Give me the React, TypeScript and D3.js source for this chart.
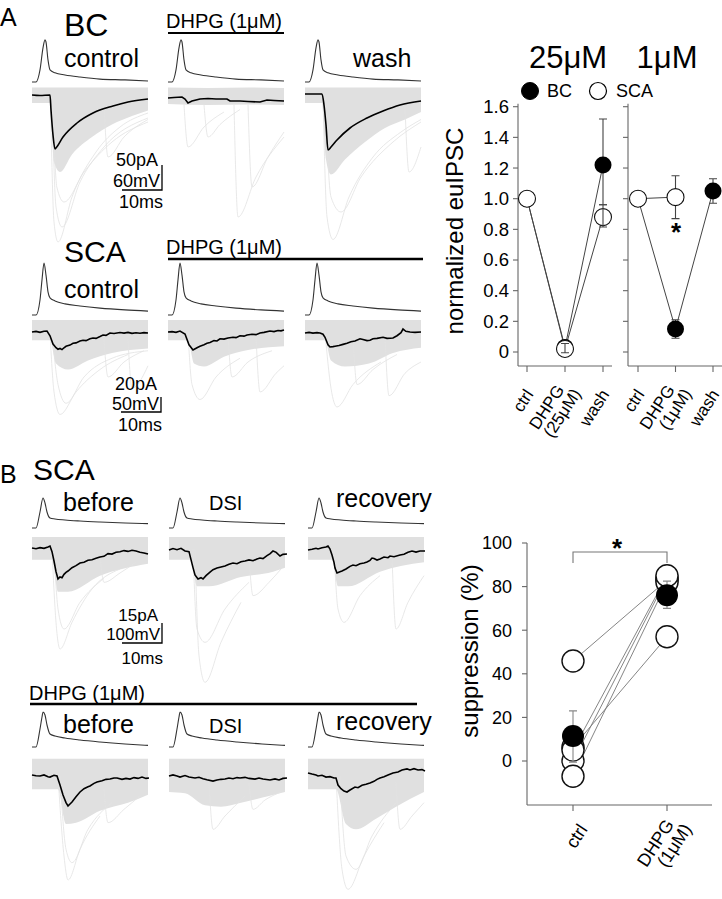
import React from "react";
import * as d3 from "d3";

type P = [number, number];
type B3 = [number, number, number];

// ===================== Panel A traces (time ms; current pA; voltage mV) =====================
// BC row
const apBC: P[] = [[0,0],[1,0],[2,29],[2.75,82],[3.25,101],[3.5,96],[4,53],[4.5,29],[5.75,22],[8.25,17],[12,12],[17,7],[23.25,5],[29,2.4]];
const bcControlMean: P[] = [[0,4],[2,3],[4.5,4],[4.75,-26],[5.25,-76],[5.75,-104],[6,-102],[7.75,-80],[11.25,-52],[15.25,-32],[20.25,-18],[24,-10],[29,-4]];
const bcDhpgMean: P[] = [[0,-2],[1.5,-1],[3.5,0],[4.25,-4],[5,-12],[6,-8],[8,-4],[10,-3],[12,-4],[14.75,-4],[15.5,-8],[18,-8],[20,-9],[23,-10],[24.75,-6],[26.5,-7],[29,-8]];
const bcWashMean: P[] = [[0,6],[4.25,6],[4.75,-16],[5.25,-56],[5.75,-106],[6.5,-100],[8,-86],[11.25,-62],[15.5,-42],[19.5,-28],[23.75,-16],[29,-8]];
const bcControlBand: B3[] = [[0,19,-12],[4.5,19,-12],[5.5,19,-130],[7,19,-150],[10,19,-115],[15,19,-80],[20,19,-55],[25,19,-38],[29,19,-27]];
const bcDhpgBand: B3[] = [[0,19,-14],[10,18,-16],[20,19,-15],[29,18,-16]];
const bcWashBand: B3[] = [[0,19,-12],[4.25,19,-12],[5.25,19,-125],[6.5,19,-155],[10,19,-125],[15,19,-90],[20,19,-62],[25,19,-45],[29,19,-30]];
const bcControlFaint: P[][] = [
  [[4.6,0],[5.5,-250],[6.5,-290],[10,-200],[16,-110],[22,-60],[29,-32]],
  [[5,0],[6,-220],[7.5,-260],[12,-170],[18,-100],[29,-42]],
  [[5.2,-10],[6.2,-180],[8,-210],[13,-150],[20,-90],[29,-50]],
  [[18,-15],[19,-120],[23,-80],[29,-45]],
];
const bcDhpgFaint: P[][] = [
  [[4,-15],[5,-100],[9,-60],[14,-30]],
  [[9,-15],[10,-80],[13,-55],[18,-25]],
  [[16.5,-15],[17.5,-240],[22,-160],[29,-80]],
  [[20,-15],[21,-180],[25,-120],[29,-70]],
];
const bcWashFaint: P[][] = [
  [[4.5,0],[5.5,-240],[7,-285],[11,-200],[17,-120],[24,-70],[29,-45]],
  [[5,0],[6.5,-200],[9,-230],[14,-160],[22,-90],[29,-50]],
  [[25,-20],[26,-150],[29,-100]],
];

// SCA row (panel A)
const apSCA: P[] = [[0,0],[1,0],[2,50],[2.5,117],[3,173],[3.5,133],[4,77],[4.5,57],[5.75,47],[8.25,37],[12,30],[17,23],[23.25,17],[29,13]];
const scaControlMean: P[] = [[0,0],[1,0.8],[2,-0.5],[3,1],[3.75,1.3],[4.5,-5],[5.25,-16],[6,-21],[6.5,-23],[7,-22],[7.5,-23.5],[8,-21],[8.5,-19],[9.5,-17.5],[10.25,-15],[11,-14.5],[12,-12],[12.75,-11],[13.5,-11.5],[14.5,-9],[15.25,-8],[16,-8.5],[17,-6],[17.75,-4],[18.5,-4.5],[19.5,-1.3],[20.5,-2],[22,-0.7],[23,-1.5],[24,-0.5],[25,-1.8],[26,-1],[27,-1.6],[28,-0.8],[29,-1.3]];
const scaDhpgMean: P[] = [[0,0],[1,0.5],[2,-0.5],[3,1.3],[4.25,-2.7],[5.25,-17],[6.25,-24],[7.25,-21],[8,-19],[9,-17],[9.75,-15],[10.5,-14],[11.5,-11.5],[12.25,-12],[13,-9],[14,-9.5],[15,-8],[16.25,-7],[17,-7.5],[18,-5],[19,-5.5],[19.75,-4],[21,-3],[22,-3.5],[23,-1.3],[24,-0.5],[25.5,1.3],[26.5,0.5],[27.5,2],[28.25,1.5],[29,2.7]];
const scaWashMean: P[] = [[0,-1.3],[1,-0.5],[2,-1.5],[3,-0.8],[3.75,-1.3],[4.5,-3],[5,-7],[5.75,-17],[6.25,-20],[7,-19.5],[7.5,-19],[8.5,-18],[9.5,-16.5],[10.5,-15],[11.5,-13],[12.5,-12],[13.75,-9],[14.5,-10],[15.5,-11.5],[16.25,-11],[17,-9],[18,-8.5],[19.5,-7],[20.5,-8.5],[22,-8],[23,-5],[24,-1],[24.5,4],[25.2,1],[26.25,0],[27.5,-0.5],[29,0]];
const scaControlBand: B3[] = [[0,16,-11],[4.5,16,-11],[6,16,-42],[9,16,-50],[14,16,-38],[20,16,-28],[29,16,-22]];
const scaDhpgBand: B3[] = [[0,16,-11],[5,16,-11],[6.5,16,-42],[9,16,-46],[14,16,-33],[20,16,-24],[29,16,-19]];
const scaWashBand: B3[] = [[0,16,-11],[5,16,-11],[6.5,16,-38],[10,16,-46],[16,16,-42],[22,16,-28],[29,16,-21]];
const scaControlFaint: P[][] = [
  [[4.5,0],[5.5,-80],[7,-110],[11,-80],[17,-50],[24,-30]],
  [[5,0],[6.5,-70],[8.5,-95],[13,-60],[20,-35],[29,-25]],
  [[18,-10],[19,-60],[23,-40],[28,-25]],
  [[24,-10],[25,-75],[29,-45]],
];
const scaDhpgFaint: P[][] = [
  [[5,0],[6,-70],[8,-90],[12,-60],[18,-35]],
  [[15,-5],[16,-60],[20,-40],[26,-25]],
  [[22,-5],[23,-80],[27,-55],[29,-45]],
];
const scaWashFaint: P[][] = [
  [[5,0],[6.5,-75],[8,-100],[12,-70],[19,-40]],
  [[12,-5],[13,-70],[17,-50],[23,-30]],
  [[20,-5],[21,-85],[25,-55],[29,-40]],
];

// ===================== Panel B traces =====================
const apB1: P[] = [[0,0],[1,0],[2,80],[2.75,150],[3.25,125],[3.75,80],[4.5,50],[5.75,45],[8.25,40],[12,35],[17,30],[23.25,25],[29,22]];
const apB2: P[] = [[0,0],[1,0],[2,90],[2.5,150],[2.75,175],[3.25,160],[3.75,110],[4.5,65],[5.75,55],[8.25,45],[12,35],[17,25],[23.25,15],[29,8]];
const bTopBeforeMean: P[] = [[0,0.8],[1,0.2],[2,1],[3,0.5],[4,1.5],[4.5,2.2],[5,-2],[5.5,-9],[6,-17],[6.5,-22.5],[7,-21],[7.5,-21.5],[8,-19],[8.5,-17.5],[9,-16.5],[10,-14],[11,-12.5],[12,-10.5],[13,-10],[14,-8.5],[15,-8],[16,-7],[17,-6],[18,-5.5],[19,-3.5],[20,-3.8],[21,-2.5],[22,-2],[23,-1.2],[24,-1.8],[25,-1],[26,-1.5],[27,-2.5],[28,-3],[29,-3.8]];
const bTopDsiMean: P[] = [[0,-0.8],[1,0.3],[2,-0.5],[3,0.5],[4,-1.5],[5,-2],[5.5,-8],[6,-14],[6.5,-19.5],[7.25,-22.5],[8,-21.5],[8.5,-22.5],[9.25,-20],[10.25,-17.3],[11,-15.5],[12,-14.3],[13,-13.5],[14,-12.8],[15,-11.5],[16,-10.5],[17,-11],[18,-9.5],[19,-9],[20,-8.2],[21,-8.8],[22,-7.5],[22.75,-6.8],[23.5,-7.2],[24.5,-5],[25.3,-3.5],[26,-1.5],[26.8,-2.5],[27.75,-5.3],[28.5,-4],[29.5,-3.8]];
const bTopRecMean: P[] = [[0,-0.8],[1,-0.2],[2,0.5],[2.5,0],[3.5,1],[4.5,1.5],[5,2.3],[5.5,0],[6,-4.5],[6.5,-10],[6.75,-14.3],[7.25,-18],[8,-17],[8.5,-16.5],[9.5,-15],[10.5,-13],[11.25,-12],[12,-12.5],[13,-11],[14,-10.5],[14.75,-9.8],[15.5,-8.5],[16,-6.8],[16.5,-7.2],[17.25,-8.3],[18,-7.5],[19,-6],[20,-6.5],[20.5,-5.3],[21.5,-5.8],[23,-4.5],[24,-4],[25,-2.5],[26,-1.5],[27,-2.3],[28,-1.5],[29.25,-1.5]];
const bTopBeforeBand: B3[] = [[0,9,-8],[5,9,-8],[6.5,9,-32],[9,9,-32],[17,9,-20],[29,9,-11]];
const bTopDsiBand: B3[] = [[0,9,-8],[5.5,9,-8],[7,9,-28],[10,9,-28],[18,9,-21],[26,9,-17],[29,9,-14]];
const bTopRecBand: B3[] = [[0,9,-8],[6,9,-8],[7.5,9,-28],[10,9,-28],[18,9,-17],[29,9,-10]];
const bTopBeforeFaint: P[][] = [
  [[5,0],[6,-55],[7,-75],[10,-55],[15,-30],[22,-15]],
  [[5.5,0],[6.5,-45],[8,-60],[12,-40],[18,-22]],
  [[17,-5],[18,-25],[22,-18],[26,-10]],
];
const bTopDsiFaint: P[][] = [
  [[6,0],[7,-60],[9,-70],[14,-45],[20,-25]],
  [[6.5,0],[7.5,-80],[9,-100],[13,-70],[18,-40]],
  [[20,-5],[21,-35],[25,-25],[28,-15]],
];
const bTopRecFaint: P[][] = [
  [[6.5,0],[7.5,-45],[9,-55],[13,-35],[18,-20]],
  [[21,-5],[22,-60],[25,-40],[29,-20]],
];
const bBotBeforeMean: P[] = [[0,0.8],[1,0.2],[2,0],[3,0.8],[4,-0.5],[4.5,-0.8],[5.5,0.5],[6.25,0],[7,-6.8],[7.75,-14.3],[8.5,-20],[9,-22.5],[9.5,-21],[10,-19.5],[11,-15.5],[12,-12],[13,-9.5],[14,-8],[14.5,-7.5],[15.5,-5.5],[16.25,-4.5],[17.5,-3.5],[18.5,-2.5],[19.5,-2.3],[20.5,-1.5],[21.25,-1.5],[22.5,-2.5],[23.5,-1.8],[24.5,-2.3],[25.5,-1.2],[26.5,-1.8],[27.5,-0.8],[28.5,-1.8],[29.25,-1.5]];
const bBotDsiMean: P[] = [[0,0],[1,0.8],[2,0],[2.75,-0.8],[4,0.3],[5,-0.8],[6.5,-1.5],[7.5,-1],[8.5,-2],[9.5,-2.8],[11,-3.8],[12,-3],[13,-2.5],[14,-2.3],[15,-1.5],[16,-2],[17,-1.2],[17.75,-1.5],[19,-1],[20,-1.8],[21.5,-2.3],[22.5,-1.5],[23.5,-2.3],[25.25,-3],[26.5,-2.2],[27.5,-3],[28.5,-1.8],[29.5,-1.5]];
const bBotRecMean: P[] = [[0,2.3],[1,1.5],[2,0.8],[2.5,0],[3.5,0.5],[4.5,-0.8],[5.5,-0.5],[6.5,-1.5],[7,-1.5],[7.5,-6.8],[8.25,-9.5],[9,-11.3],[9.75,-12],[10.5,-10.5],[11.75,-8.3],[12.5,-8.8],[13.5,-7],[14.5,-6.2],[15.5,-5.3],[16.5,-4],[17.25,-2.5],[18,-1.5],[19,-0.5],[20,0.8],[21.25,2.3],[22.5,3],[23.5,4.5],[24.75,5.3],[25.5,4.5],[26.5,5.5],[27.5,4.5],[28.5,4.8],[29.25,3.8]];
const bBotBeforeBand: B3[] = [[0,13,-10],[6.5,13,-10],[8.5,13,-36],[11,13,-35],[17,13,-26],[24,13,-20],[29,13,-14]];
const bBotDsiBand: B3[] = [[0,13,-12],[4,13,-13],[9,13,-22],[13,13,-23],[18,13,-20],[25,13,-15],[29,13,-12]];
const bBotRecBand: B3[] = [[0,13,-10],[7,13,-10],[9.5,13,-36],[12,13,-40],[17,13,-32],[22,13,-23],[29,13,-12]];
const bBotBeforeFaint: P[][] = [
  [[6.5,0],[8,-60],[9,-78],[12,-55],[17,-30]],
  [[7,0],[8.5,-55],[10,-65],[14,-40],[20,-20]],
  [[18,-10],[19,-35],[23,-25],[27,-15]],
];
const bBotDsiFaint: P[][] = [
  [[10,-5],[11,-40],[14,-30],[19,-15]],
  [[20,-5],[21,-25],[24,-18],[28,-12]],
];
const bBotRecFaint: P[][] = [
  [[7,0],[8.5,-70],[10,-85],[14,-60],[19,-35]],
  [[8,0],[9.5,-60],[12,-70],[16,-45],[22,-20]],
  [[22,-5],[23,-40],[26,-30],[29,-20]],
];

// scale-bar amounts
const scaleBarBC = { pA: 50, mV: 60, ms: 10 };
const scaleBarSCA = { pA: 20, mV: 50, ms: 10 };
const scaleBarB = { pA: 15, mV: 100, ms: 10 };

// ===================== Right-hand summary charts =====================
const catsA25 = ["ctrl", "DHPG|(25μM)", "wash"];
const catsA1 = ["ctrl", "DHPG|(1μM)", "wash"];
const ticksA = [0, 0.2, 0.4, 0.6, 0.8, 1.0, 1.2, 1.4, 1.6];
const bc25 = [1.0, 0.03, 1.22];
const bc25Lo = [1.0, 0.03, 0.96];
const bc25Hi = [1.0, 0.03, 1.52];
const sca25 = [1.0, 0.02, 0.88];
const sca25Lo = [1.0, -0.005, 0.815];
const sca25Hi = [1.0, 0.055, 0.96];
const bc1 = [1.0, 0.15, 1.05];
const bc1Lo = [1.0, 0.09, 0.97];
const bc1Hi = [1.0, 0.21, 1.13];
const sca1 = [1.0, 1.01];
const sca1Lo = [1.0, 0.87];
const sca1Hi = [1.0, 1.15];

const catsB = ["ctrl", "DHPG|(1μM)"];
const ticksB = [0, 20, 40, 60, 80, 100];
const cellCtrl = [45.9, 6.4, 0, -7, 5];
const cellDhpg = [83, 57, 84, 82, 85];
const meanB = [11.5, 76];
const meanBLo = [-0.5, 70];
const meanBHi = [23, 82.5];

const FONT = "'Liberation Sans', Arial, Helvetica, sans-serif";

type PanelProps = { x0: number; ys: any; yv: any; ap: P[]; band: B3[]; faint: P[][]; mean: P[]; smooth?: boolean };

function TracePanel({ x0, ys, yv, ap, band, faint, mean, smooth }: PanelProps) {
  const x = d3.scaleLinear().domain([0, 29]).range([x0, x0 + 116]);
  const lineI = d3.line<P>().x(d => x(d[0])).y(d => ys(d[1])).curve(smooth ? d3.curveMonotoneX : d3.curveLinear);
  const lineF = d3.line<P>().x(d => x(d[0])).y(d => ys(d[1])).curve(d3.curveMonotoneX);
  const lineV = d3.line<P>().x(d => x(d[0])).y(d => yv(d[1])).curve(d3.curveMonotoneX);
  const area = d3.area<B3>().x(d => x(d[0])).y0(d => ys(d[2])).y1(d => ys(d[1])).curve(d3.curveMonotoneX);
  return (
    <g>
      <path d={area(band) || ""} fill="#e0e0e0" />
      {faint.map((f, i) => (
        <path key={i} d={lineF(f) || ""} fill="none" stroke="#e2e2e2" strokeWidth={0.8} />
      ))}
      <path d={lineV(ap) || ""} fill="none" stroke="#333" strokeWidth={1.1} />
      <path d={lineI(mean) || ""} fill="none" stroke="#000" strokeWidth={1.6} />
    </g>
  );
}

function ScaleBar({ x0, ys, amt, right, bottom, ty, fs }: any) {
  const x = d3.scaleLinear().domain([0, 29]).range([x0, x0 + 116]);
  const h = ys(0) - ys(amt.pA);
  const w = x(amt.ms) - x(0);
  return (
    <g fontFamily={FONT} fontSize={fs} fill="#000">
      <path d={`M${right - w},${bottom}H${right}V${bottom - h}`} fill="none" stroke="#000" strokeWidth={1.3} />
      <text x={right - 4} y={ty[0]} textAnchor="end">{`${amt.pA}pA`}</text>
      <text x={right - 2} y={ty[1]} textAnchor="end">{`${amt.mV}mV`}</text>
      <text x={right + 1} y={ty[2]} textAnchor="end">{`${amt.ms}ms`}</text>
    </g>
  );
}

function RotLabel({ x, y, label, size }: { x: number; y: number; label: string; size: number }) {
  const parts = label.split("|");
  return (
    <g transform={`translate(${x},${y}) rotate(-57)`}>
      {parts.length === 1 ? (
        <text textAnchor="end" fontSize={size} dy="0.35em">{parts[0]}</text>
      ) : (
        <>
          <text textAnchor="end" fontSize={size} dy="-0.15em">{parts[0]}</text>
          <text textAnchor="end" fontSize={size} dy="0.8em" x={6}>{parts[1]}</text>
        </>
      )}
    </g>
  );
}

function ErrBar({ x, y1, y2, cap, color }: { x: number; y1: number; y2: number; cap: number; color: string }) {
  return (
    <path d={`M${x},${y1}V${y2}M${x - cap / 2},${y1}H${x + cap / 2}M${x - cap / 2},${y2}H${x + cap / 2}`} stroke={color} strokeWidth={1.1} fill="none" />
  );
}

export default function App() {
  // ---------- trace rows layout ----------
  const mkY = (y0: number, k: number) => d3.scaleLinear().domain([0, 1]).range([y0, y0 - k]);
  const bcI = mkY(97, 0.5), bcV = mkY(82, 25 / 60);
  const scI = mkY(332, 0.75), scV = mkY(315, 0.3);
  const btI = mkY(549, 20 / 15), btV = mkY(528, 0.2);
  const bbI = mkY(776, 20 / 15), bbV = mkY(747, 0.2);
  const xA = [32, 168, 305];
  const xB = [32, 169, 308];

  // ---------- summary chart A ----------
  const yA = d3.scaleLinear().domain([0, 1.6]).range([352, 106.7]);
  const xA25 = d3.scalePoint<string>().domain(catsA25).range([527, 603]);
  const xA1 = d3.scalePoint<string>().domain(catsA1).range([638, 713]);
  const axA = [518, 628];
  const axisYA = 366;
  const lineA = (xs: any, cats: string[]) => d3.line<number>().x((_, i) => xs(cats[i])).y(d => yA(d));

  // ---------- summary chart B ----------
  const yB = d3.scaleLinear().domain([0, 100]).range([761, 543]);
  const xBs = d3.scalePoint<string>().domain(catsB).range([573, 667]);
  const axBx = 527, axisYB = 805;

  const rA = 8.5, rB = 11;

  return (
    <svg width={722} height={899} style={{ position: "absolute", left: 0, top: 0, background: "#fff" }} fontFamily={FONT}>
      <rect width={722} height={899} fill="#fff" />

      {/* ================= Panel A labels ================= */}
      <text x={0} y={26} fontSize={25}>A</text>
      <text x={64} y={36} fontSize={32}>BC</text>
      <text x={64} y={67} fontSize={25}>control</text>
      <text x={166} y={28} fontSize={20}>DHPG (1μM)</text>
      <line x1={168} x2={284} y1={33} y2={33} stroke="#000" strokeWidth={2.2} />
      <text x={353} y={67} fontSize={25}>wash</text>

      <TracePanel x0={xA[0]} ys={bcI} yv={bcV} ap={apBC} band={bcControlBand} faint={bcControlFaint} mean={bcControlMean} smooth />
      <TracePanel x0={xA[1]} ys={bcI} yv={bcV} ap={apBC} band={bcDhpgBand} faint={bcDhpgFaint} mean={bcDhpgMean} />
      <TracePanel x0={xA[2]} ys={bcI} yv={bcV} ap={apBC} band={bcWashBand} faint={bcWashFaint} mean={bcWashMean} smooth />
      <ScaleBar x0={xA[0]} ys={bcI} amt={scaleBarBC} right={162} bottom={190} ty={[166, 187, 208]} fs={18} />

      <text x={64} y={262} fontSize={30}>SCA</text>
      <text x={64} y={298} fontSize={25}>control</text>
      <text x={166} y={254} fontSize={20}>DHPG (1μM)</text>
      <line x1={168} x2={423} y1={259} y2={259} stroke="#000" strokeWidth={2.4} />

      <TracePanel x0={xA[0]} ys={scI} yv={scV} ap={apSCA} band={scaControlBand} faint={scaControlFaint} mean={scaControlMean} />
      <TracePanel x0={xA[1]} ys={scI} yv={scV} ap={apSCA} band={scaDhpgBand} faint={scaDhpgFaint} mean={scaDhpgMean} />
      <TracePanel x0={xA[2]} ys={scI} yv={scV} ap={apSCA} band={scaWashBand} faint={scaWashFaint} mean={scaWashMean} />
      <ScaleBar x0={xA[0]} ys={scI} amt={scaleBarSCA} right={161} bottom={412} ty={[390, 410, 431]} fs={18} />

      {/* ================= Panel B labels ================= */}
      <text x={0} y={483} fontSize={25}>B</text>
      <text x={33} y={480} fontSize={30}>SCA</text>
      <text x={63} y={511} fontSize={25}>before</text>
      <text x={209} y={510} fontSize={20}>DSI</text>
      <text x={336} y={507} fontSize={25}>recovery</text>

      <TracePanel x0={xB[0]} ys={btI} yv={btV} ap={apB1} band={bTopBeforeBand} faint={bTopBeforeFaint} mean={bTopBeforeMean} />
      <TracePanel x0={xB[1]} ys={btI} yv={btV} ap={apB1} band={bTopDsiBand} faint={bTopDsiFaint} mean={bTopDsiMean} />
      <TracePanel x0={xB[2]} ys={btI} yv={btV} ap={apB1} band={bTopRecBand} faint={bTopRecFaint} mean={bTopRecMean} />
      <ScaleBar x0={xB[0]} ys={btI} amt={scaleBarB} right={162} bottom={643} ty={[621, 640, 664]} fs={17} />

      <text x={29} y={700} fontSize={20}>DHPG (1μM)</text>
      <line x1={30} x2={417} y1={704} y2={704} stroke="#000" strokeWidth={2.4} />
      <text x={63} y={733} fontSize={25}>before</text>
      <text x={209} y={733} fontSize={20}>DSI</text>
      <text x={336} y={730} fontSize={25}>recovery</text>

      <TracePanel x0={xB[0]} ys={bbI} yv={bbV} ap={apB2} band={bBotBeforeBand} faint={bBotBeforeFaint} mean={bBotBeforeMean} />
      <TracePanel x0={xB[1]} ys={bbI} yv={bbV} ap={apB2} band={bBotDsiBand} faint={bBotDsiFaint} mean={bBotDsiMean} />
      <TracePanel x0={xB[2]} ys={bbI} yv={bbV} ap={apB2} band={bBotRecBand} faint={bBotRecFaint} mean={bBotRecMean} />

      {/* ================= Summary chart A ================= */}
      <text x={568} y={68} fontSize={31} textAnchor="middle">25μM</text>
      <text x={667} y={68} fontSize={31} textAnchor="middle">1μM</text>
      <circle cx={530} cy={91} r={rA} fill="#000" stroke="#000" />
      <text x={547} y={97} fontSize={18}>BC</text>
      <circle cx={598} cy={91} r={rA} fill="#fff" stroke="#000" strokeWidth={1.2} />
      <text x={616} y={97} fontSize={18}>SCA</text>
      <text transform={`translate(463,231) rotate(-90)`} textAnchor="middle" fontSize={24}>normalized euIPSC</text>

      {axA.map((ax, k) => (
        <g key={k} stroke="#666" strokeWidth={1.1}>
          <line x1={ax} x2={ax} y1={yA(1.62)} y2={axisYA} />
          <line x1={ax} x2={ax + 94} y1={axisYA} y2={axisYA} />
          {ticksA.map(t => (
            <line key={t} x1={ax - 5} x2={ax} y1={yA(t)} y2={yA(t)} />
          ))}
          {(k === 0 ? catsA25 : catsA1).map(c => {
            const xs = k === 0 ? xA25 : xA1;
            return <line key={c} x1={xs(c)} x2={xs(c)} y1={axisYA} y2={axisYA + 6} />;
          })}
        </g>
      ))}
      {ticksA.map(t => (
        <text key={t} x={509} y={yA(t)} dy="0.35em" textAnchor="end" fontSize={18.5}>{t === 0 ? "0" : d3.format(".1f")(t)}</text>
      ))}
      {catsA25.map(c => <RotLabel key={c} x={(xA25(c) as number) + 2} y={axisYA + 25} label={c} size={17} />)}
      {catsA1.map(c => <RotLabel key={c} x={(xA1(c) as number) + 2} y={axisYA + 25} label={c} size={17} />)}

      {/* 25 µM data */}
      <path d={lineA(xA25, catsA25)(bc25) || ""} fill="none" stroke="#444" strokeWidth={1} />
      <path d={lineA(xA25, catsA25)(sca25) || ""} fill="none" stroke="#444" strokeWidth={1} />
      {bc25.map((v, i) => bc25Lo[i] !== bc25Hi[i] ? <ErrBar key={"e" + i} x={xA25(catsA25[i]) as number} y1={yA(bc25Lo[i])} y2={yA(bc25Hi[i])} cap={8} color="#444" /> : null)}
      {bc25.map((v, i) => <circle key={"b" + i} cx={xA25(catsA25[i])} cy={yA(v)} r={rA} fill="#000" />)}
      {sca25.map((v, i) => <circle key={"s" + i} cx={xA25(catsA25[i])} cy={yA(v)} r={rA} fill="#fff" stroke="#111" strokeWidth={1.1} />)}
      {sca25.map((v, i) => sca25Lo[i] !== sca25Hi[i] ? <ErrBar key={"es" + i} x={xA25(catsA25[i]) as number} y1={yA(sca25Lo[i])} y2={yA(sca25Hi[i])} cap={8} color="#444" /> : null)}

      {/* 1 µM data */}
      <path d={lineA(xA1, catsA1)(bc1) || ""} fill="none" stroke="#444" strokeWidth={1} />
      <path d={lineA(xA1, catsA1)(sca1) || ""} fill="none" stroke="#444" strokeWidth={1} />
      {bc1.map((v, i) => bc1Lo[i] !== bc1Hi[i] ? <ErrBar key={"e" + i} x={xA1(catsA1[i]) as number} y1={yA(bc1Lo[i])} y2={yA(bc1Hi[i])} cap={8} color="#444" /> : null)}
      {sca1.map((v, i) => sca1Lo[i] !== sca1Hi[i] ? <ErrBar key={"es" + i} x={xA1(catsA1[i]) as number} y1={yA(sca1Lo[i])} y2={yA(sca1Hi[i])} cap={8} color="#444" /> : null)}
      {bc1.map((v, i) => <circle key={"b" + i} cx={xA1(catsA1[i])} cy={yA(v)} r={rA} fill="#000" />)}
      {sca1.map((v, i) => <circle key={"s" + i} cx={xA1(catsA1[i])} cy={yA(v)} r={rA} fill="#fff" stroke="#111" strokeWidth={1.1} />)}
      <text x={676} y={241} fontSize={26} fontWeight="bold" textAnchor="middle">*</text>

      {/* ================= Summary chart B ================= */}
      <text transform={`translate(478,651) rotate(-90)`} textAnchor="middle" fontSize={24}>suppression (%)</text>
      <g stroke="#666" strokeWidth={1.1}>
        <line x1={axBx} x2={axBx} y1={yB(100)} y2={axisYB} />
        <line x1={axBx} x2={712} y1={axisYB} y2={axisYB} />
        {ticksB.map(t => <line key={t} x1={axBx - 5} x2={axBx} y1={yB(t)} y2={yB(t)} />)}
        {catsB.map(c => <line key={c} x1={xBs(c)} x2={xBs(c)} y1={axisYB} y2={axisYB + 6} />)}
      </g>
      {ticksB.map(t => <text key={t} x={512} y={yB(t)} dy="0.35em" textAnchor="end" fontSize={18}>{t}</text>)}
      {catsB.map(c => <RotLabel key={c} x={(xBs(c) as number) + 10} y={axisYB + 21} label={c} size={18} />)}

      <path d={`M${xBs(catsB[0])},563V552H${xBs(catsB[1])}V563`} fill="none" stroke="#777" strokeWidth={1.1} />
      <text x={617} y={557} fontSize={26} fontWeight="bold" textAnchor="middle">*</text>

      {cellCtrl.map((v, i) => (
        <line key={"l" + i} x1={xBs(catsB[0])} y1={yB(v)} x2={xBs(catsB[1])} y2={yB(cellDhpg[i])} stroke="#777" strokeWidth={0.9} />
      ))}
      {cellCtrl.map((v, i) => <circle key={"c" + i} cx={xBs(catsB[0])} cy={yB(v)} r={rB} fill="#fff" stroke="#111" strokeWidth={1.4} />)}
      {cellDhpg.map((v, i) => <circle key={"d" + i} cx={xBs(catsB[1])} cy={yB(v)} r={rB} fill="#fff" stroke="#111" strokeWidth={1.4} />)}
      {meanB.map((v, i) => <ErrBar key={"me" + i} x={xBs(catsB[i]) as number} y1={yB(meanBLo[i])} y2={yB(meanBHi[i])} cap={8} color="#888" />)}
      {meanB.map((v, i) => <circle key={"m" + i} cx={xBs(catsB[i])} cy={yB(v)} r={rB} fill="#000" />)}
    </svg>
  );
}
